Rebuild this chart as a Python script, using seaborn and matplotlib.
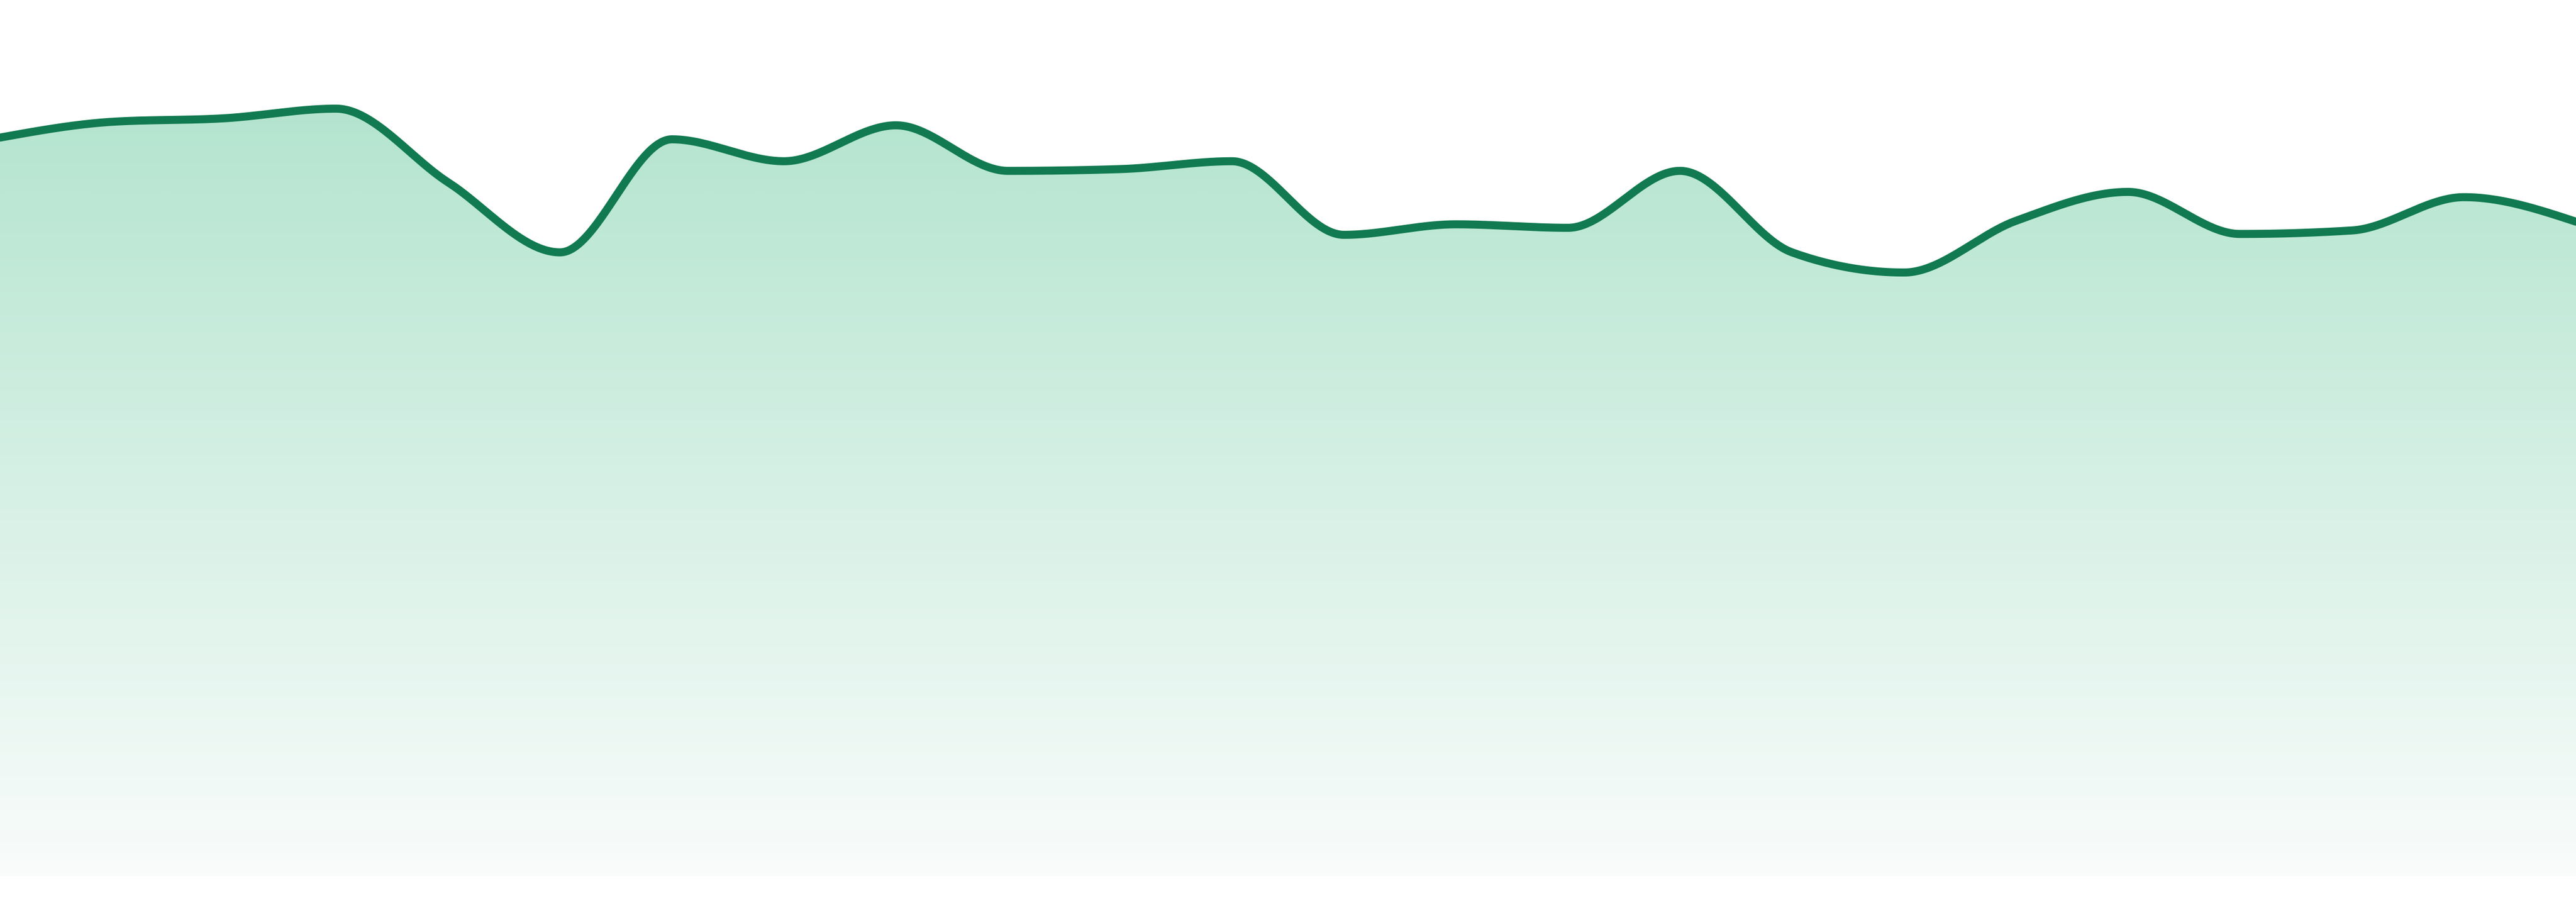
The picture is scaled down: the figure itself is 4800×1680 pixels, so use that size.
import numpy as np
import pandas as pd
import matplotlib
matplotlib.use("Agg")
import matplotlib.pyplot as plt
from matplotlib.colors import LinearSegmentedColormap
import seaborn as sns

# ---- data ----
steps = list(range(24))
values = [84.3, 86.1, 86.5, 87.6, 79.2, 71.2, 84.1, 81.6, 85.7, 80.5, 80.7, 81.6,
          73.2, 74.4, 74.0, 80.5, 71.2, 68.9, 74.8, 78.1, 73.3, 73.7, 77.5, 74.7]

line_color = "#117a50"
fill_top = "#aae1c9"
fill_bottom = "#f9fcfb"


def monotone_x(xs, ys, n=80):
    """d3.curveMonotoneX style rendering of the knots."""
    xs = np.asarray(xs, float)
    ys = np.asarray(ys, float)
    m = len(xs)
    h = np.diff(xs)
    s = np.diff(ys) / h
    t = np.zeros(m)
    for i in range(1, m - 1):
        h0, h1 = h[i - 1], h[i]
        s0, s1 = s[i - 1], s[i]
        p = (s0 * h1 + s1 * h0) / (h0 + h1)
        t[i] = (np.sign(s0) + np.sign(s1)) * min(abs(s0), abs(s1), 0.5 * abs(p))
    t[0] = (3 * s[0] - t[1]) / 2
    t[-1] = (3 * s[-1] - t[-2]) / 2
    px, py = [], []
    for i in range(m - 1):
        u = np.linspace(0, 1, n, endpoint=(i == m - 2))
        dx = h[i]
        h00 = 2 * u**3 - 3 * u**2 + 1
        h10 = u**3 - 2 * u**2 + u
        h01 = -2 * u**3 + 3 * u**2
        h11 = u**3 - u**2
        px.append(xs[i] + u * dx)
        py.append(h00 * ys[i] + h10 * dx * t[i] + h01 * ys[i + 1] + h11 * dx * t[i + 1])
    return np.concatenate(px), np.concatenate(py)


sns.set_theme(style="white")

fig = plt.figure(figsize=(16, 5.6), dpi=300)
ax = fig.add_axes([0, 0, 1, 1])

cx, cy = monotone_x(steps, values)
curve = pd.DataFrame({"step": cx, "value": cy})

ymin, ymax = -2.94, 100.0
ax.set_xlim(steps[0], steps[-1])
ax.set_ylim(ymin, ymax)

# gradient fill under the curve
poly = ax.fill_between(curve["step"], 0, curve["value"], color="none", lw=0)
cmap = LinearSegmentedColormap.from_list("g", [fill_bottom, fill_top])
grad = np.linspace(0, 1, 512).reshape(-1, 1)
img = ax.imshow(grad, cmap=cmap, origin="lower", aspect="auto",
                extent=[steps[0], steps[-1], 0, 100], interpolation="bicubic", zorder=1)
clip_path = poly.get_paths()[0]
img.set_clip_path(clip_path, transform=ax.transData)

sns.lineplot(data=curve, x="step", y="value", ax=ax, color=line_color,
             linewidth=3.6, sort=False, estimator=None, zorder=3)

ax.set_xlim(steps[0], steps[-1])
ax.set_ylim(ymin, ymax)
ax.axis("off")
ax.set_xlabel("")
ax.set_ylabel("")

fig.savefig("out.png", dpi=300, facecolor="white")
